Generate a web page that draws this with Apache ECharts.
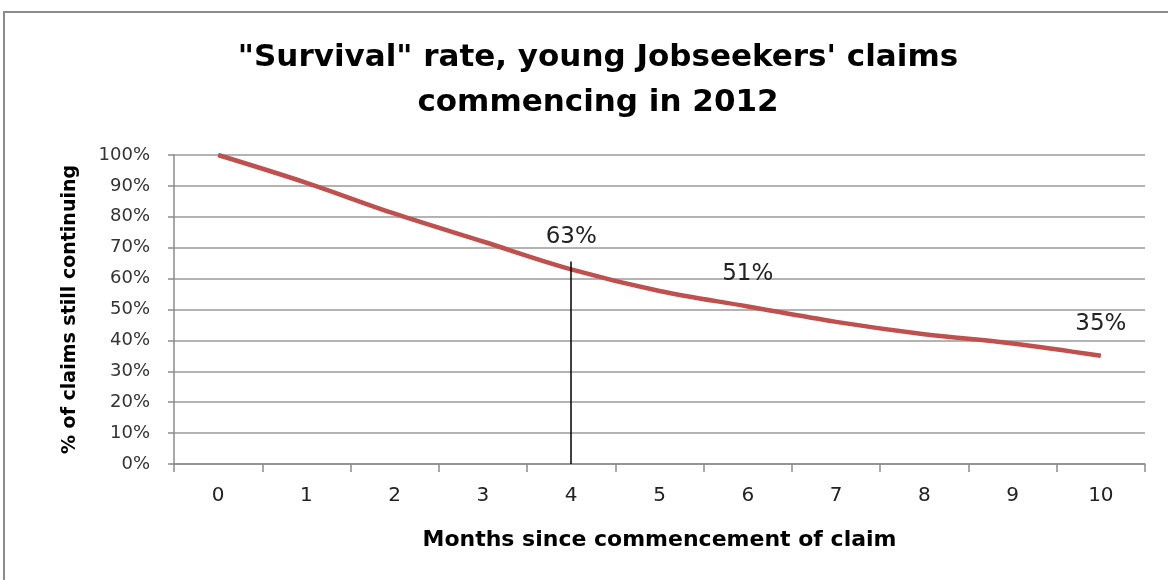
<!DOCTYPE html>
<html>
<head>
<meta charset="utf-8">
<script src="https://cdn.jsdelivr.net/npm/echarts@6/dist/echarts.min.js"></script>
<style>
  html, body { margin: 0; padding: 0; background: #fff; }
  #chart { width: 1168px; height: 580px; }
</style>
</head>
<body>
<div id="chart"></div>
<script>
// Months since a claim began, and share of claims still open at each month
const months = ['0', '1', '2', '3', '4', '5', '6', '7', '8', '9', '10'];
const survival = [100, 91, 81, 72, 63, 56, 51, 46, 42, 39, 35];
// Months whose value is written above the curve
const labelledMonths = ['4', '6', '10'];
// Marker line drawn down from the curve at month 4
const markerMonth = '4';
const markerTop = 65.5;

const FONT = '"DejaVu Sans", "Noto Sans", sans-serif';

const chart = echarts.init(document.getElementById('chart'), null, { renderer: 'canvas' });

// Value labels sit on individual points; the other points carry no label
const seriesData = survival.map((v, i) => ({
  value: v,
  label: { show: labelledMonths.includes(months[i]) }
}));

chart.setOption({
  animation: false,
  backgroundColor: '#ffffff',
  graphic: [{
    type: 'rect',
    shape: { x: 4, y: 12, width: 1200, height: 600 },
    style: { fill: 'none', stroke: '#8c8c8c', lineWidth: 2 },
    silent: true
  }],
  title: {
    text: '"Survival" rate, young Jobseekers\' claims\ncommencing in 2012',
    left: 593,
    textAlign: 'center',
    top: 30,
    textStyle: {
      fontFamily: FONT,
      fontWeight: 'bold',
      fontSize: 31,
      lineHeight: 45,
      color: '#000'
    }
  },
  grid: { left: 174, right: 23, top: 155, bottom: 116, containLabel: false },
  xAxis: {
    type: 'category',
    data: months,
    boundaryGap: true,
    name: 'Months since commencement of claim',
    nameLocation: 'middle',
    nameGap: 65,
    nameTextStyle: { fontFamily: FONT, fontWeight: 'bold', fontSize: 22, color: '#000' },
    axisLine: { lineStyle: { color: '#8c8c8c', width: 1.5 } },
    axisTick: { show: true, alignWithLabel: false, length: 8, lineStyle: { color: '#8c8c8c', width: 1.5 } },
    axisLabel: { fontFamily: FONT, fontSize: 20, color: '#222', margin: 22 },
    splitLine: { show: false }
  },
  yAxis: {
    type: 'value',
    min: 0,
    max: 100,
    interval: 10,
    name: '% of claims still continuing',
    nameLocation: 'middle',
    nameGap: 94,
    nameRotate: 90,
    nameTextStyle: { fontFamily: FONT, fontWeight: 'bold', fontSize: 19, color: '#000' },
    axisLine: { show: true, lineStyle: { color: '#8c8c8c', width: 1.5 } },
    axisTick: { show: true, length: 6, lineStyle: { color: '#8c8c8c', width: 1.5 } },
    axisLabel: { fontFamily: FONT, fontSize: 18, color: '#333', margin: 24, formatter: '{value}%' },
    splitLine: { show: true, lineStyle: { color: '#9a9a9a', width: 1.5 } }
  },
  series: [{
    type: 'line',
    data: seriesData,
    smooth: 0.35,
    symbol: 'circle',
    symbolSize: 1,
    showSymbol: true,
    itemStyle: { color: 'rgba(0,0,0,0)' },
    lineStyle: { color: '#C0504D', width: 4.5 },
    label: {
      position: 'top',
      distance: 20,
      fontFamily: FONT,
      fontSize: 23,
      color: '#222',
      formatter: '{c}%'
    },
    markLine: {
      silent: true,
      symbol: ['none', 'none'],
      label: { show: false },
      lineStyle: { color: '#000', width: 1.5, type: 'solid' },
      data: [[
        { coord: [markerMonth, markerTop] },
        { coord: [markerMonth, 0] }
      ]]
    }
  }]
});
</script>
</body>
</html>
